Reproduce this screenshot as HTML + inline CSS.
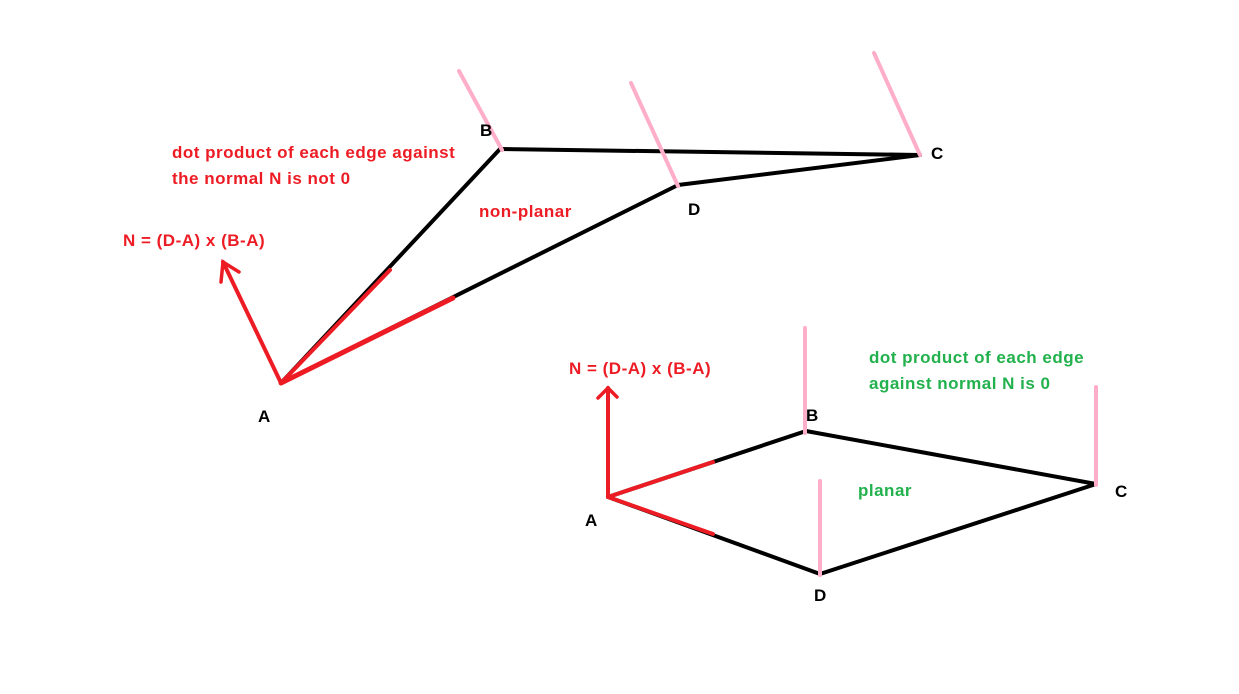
<!DOCTYPE html>
<html><head><style>
html,body{margin:0;padding:0;background:#fff;}
svg{display:block;}
text{font-family:"Liberation Sans",sans-serif;font-weight:bold;font-size:17px;letter-spacing:0.5px;}
</style></head><body>
<svg width="1239" height="694" viewBox="0 0 1239 694" xmlns="http://www.w3.org/2000/svg">
<rect width="1239" height="694" fill="#fff"/>
<g stroke-linecap="round" fill="none">
<line x1="281" y1="383" x2="500" y2="149" stroke="#000" stroke-width="4"/>
<line x1="500" y1="149" x2="920" y2="155" stroke="#000" stroke-width="4"/>
<line x1="920" y1="155" x2="678" y2="185" stroke="#000" stroke-width="4"/>
<line x1="678" y1="185" x2="281" y2="383" stroke="#000" stroke-width="4"/>
<line x1="281" y1="383" x2="390" y2="270" stroke="#ed1c24" stroke-width="4"/>
<line x1="281" y1="383" x2="453" y2="298" stroke="#ed1c24" stroke-width="5"/>
<line x1="281" y1="383" x2="223" y2="262" stroke="#ed1c24" stroke-width="4"/>
<polyline points="221,282 223,262 239,272" stroke="#ed1c24" stroke-width="3.5"/>
<line x1="459" y1="71" x2="502" y2="150" stroke="#ffaec9" stroke-width="4"/>
<line x1="631" y1="83" x2="678" y2="186" stroke="#ffaec9" stroke-width="4"/>
<line x1="874" y1="53" x2="920" y2="155" stroke="#ffaec9" stroke-width="4"/>
<line x1="608" y1="497" x2="806" y2="431" stroke="#000" stroke-width="4"/>
<line x1="806" y1="431" x2="1096" y2="484" stroke="#000" stroke-width="4"/>
<line x1="1096" y1="484" x2="820" y2="574" stroke="#000" stroke-width="4"/>
<line x1="820" y1="574" x2="608" y2="497" stroke="#000" stroke-width="4"/>
<line x1="608" y1="497" x2="713" y2="462" stroke="#ed1c24" stroke-width="4"/>
<line x1="608" y1="497" x2="713" y2="534" stroke="#ed1c24" stroke-width="4"/>
<line x1="608" y1="497" x2="608" y2="388" stroke="#ed1c24" stroke-width="4"/>
<polyline points="598,398 608,388 617,397" stroke="#ed1c24" stroke-width="3.5"/>
<line x1="805" y1="328" x2="805" y2="433" stroke="#ffaec9" stroke-width="4"/>
<line x1="820" y1="481" x2="820" y2="575" stroke="#ffaec9" stroke-width="4"/>
<line x1="1096" y1="387" x2="1096" y2="485" stroke="#ffaec9" stroke-width="4"/>
</g>
<g fill="#ed1c24">
<text x="172" y="158">dot product of each edge against</text>
<text x="172" y="184">the normal N is not 0</text>
<text x="123" y="246">N = (D-A) x (B-A)</text>
<text x="479" y="217">non-planar</text>
<text x="569" y="374">N = (D-A) x (B-A)</text>
</g>
<g fill="#22b14c">
<text x="869" y="363">dot product of each edge</text>
<text x="869" y="389">against normal N is 0</text>
<text x="858" y="496">planar</text>
</g>
<g fill="#000">
<text x="480" y="136">B</text>
<text x="931" y="159">C</text>
<text x="688" y="215">D</text>
<text x="258" y="422">A</text>
<text x="806" y="421">B</text>
<text x="1115" y="497">C</text>
<text x="585" y="526">A</text>
<text x="814" y="601">D</text>
</g>
</svg>
</body></html>
